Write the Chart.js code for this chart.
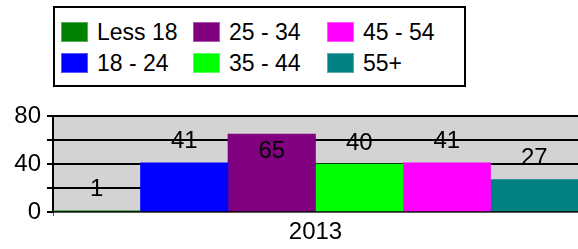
<!DOCTYPE html>
<html>
<head>
<meta charset="utf-8">
<script src="https://cdn.jsdelivr.net/npm/chart.js@4"></script>
<style>
    html, body { margin: 0; padding: 0; background: #fff; }
    #wrap { position: relative; width: 578px; height: 249px; overflow: hidden; }
    #ageChart { position: absolute; left: 0; top: 0; }
    #legend {
        position: absolute; left: 53px; top: 6px; width: 409px; height: 77px;
        border: 2px solid #000; background: #fff;
        font-family: 'Liberation Sans', Arial, sans-serif; font-size: 23px; color: #000;
    }
    .item { position: absolute; height: 24px; line-height: 24px; white-space: nowrap; }
    .swatch { display: inline-block; width: 27px; height: 20px; vertical-align: top; margin-top: 2px; margin-right: 9px; box-sizing: border-box; border: 1px solid rgba(255,255,255,0.35); }
</style>
</head>
<body>
<div id="wrap">
    <canvas id="ageChart" width="578" height="249"></canvas>
    <div id="legend"></div>
</div>
<script>
const years = ['2013'];
const ageGroups = ['Less 18', '18 - 24', '25 - 34', '35 - 44', '45 - 54', '55+'];
const groupValues = [1, 41, 65, 40, 41, 27];
const groupColors = ['#008000', '#0000ff', '#800080', '#00ff00', '#ff00ff', '#008080'];
const yTickLabels = ['0', '40', '80'];

// legend: 3 columns, filled top to bottom
const legendEl = document.getElementById('legend');
const colX = [6, 138, 272];
const rowY = [12, 43];
ageGroups.forEach((name, i) => {
    const col = Math.floor(i / 2);
    const row = i % 2;
    const div = document.createElement('div');
    div.className = 'item';
    div.style.left = colX[col] + 'px';
    div.style.top = rowY[row] + 'px';
    div.innerHTML = '<span class="swatch" style="background:' + groupColors[i] + '"></span>' + name;
    legendEl.appendChild(div);
});

const plotBackground = {
    id: 'plotBackground',
    beforeDraw(chart) {
        const { ctx, chartArea } = chart;
        ctx.save();
        ctx.fillStyle = '#d3d3d3';
        ctx.fillRect(chartArea.left, chartArea.top, chartArea.right - chartArea.left, chartArea.bottom - chartArea.top);
        ctx.restore();
    },
};

const valueLabels = {
    id: 'valueLabels',
    afterDatasetsDraw(chart) {
        const { ctx, chartArea } = chart;
        ctx.save();
        ctx.font = '24px "Liberation Sans", Arial, sans-serif';
        ctx.fillStyle = '#000';
        ctx.textAlign = 'center';
        ctx.textBaseline = 'middle';
        chart.data.datasets.forEach((ds, i) => {
            const bar = chart.getDatasetMeta(i).data[0];
            let y = bar.y - 21;
            if (y < chartArea.top + 10) y = bar.y + 17;
            ctx.fillText(String(ds.data[0]), bar.x, y);
        });
        ctx.restore();
    },
};

const ctx = document.getElementById('ageChart').getContext('2d');

new Chart(ctx, {
    type: 'bar',
    data: {
        labels: years,
        datasets: ageGroups.map((name, i) => ({
            label: name,
            data: [groupValues[i]],
            backgroundColor: groupColors[i],
            borderWidth: 0,
            categoryPercentage: 1,
            barPercentage: 1,
        })),
    },
    options: {
        responsive: false,
        animation: false,
        layout: { padding: { top: 116, left: 0, right: 0, bottom: 0 } },
        plugins: {
            legend: { display: false },
            tooltip: { enabled: false },
        },
        scales: {
            x: {
                grid: { drawOnChartArea: false, tickLength: 4, color: '#555' },
                border: { color: '#555', width: 1 },
                ticks: {
                    color: '#000',
                    padding: 2,
                    font: { family: '"Liberation Sans", Arial, sans-serif', size: 24 },
                },
                afterFit(scale) { scale.height = 37; },
            },
            y: {
                min: 0,
                max: 80,
                grid: { color: '#000', tickLength: 6, lineWidth: 2 },
                border: { color: '#000', width: 2 },
                ticks: {
                    stepSize: 20,
                    autoSkip: false,
                    color: '#000',
                    padding: 6,
                    font: { family: '"Liberation Sans", Arial, sans-serif', size: 24 },
                    callback: (v) => yTickLabels.includes(String(v)) ? String(v) : '',
                },
                afterFit(scale) { scale.width = 53; },
            },
        },
    },
    plugins: [plotBackground, valueLabels],
});
</script>
</body>
</html>
